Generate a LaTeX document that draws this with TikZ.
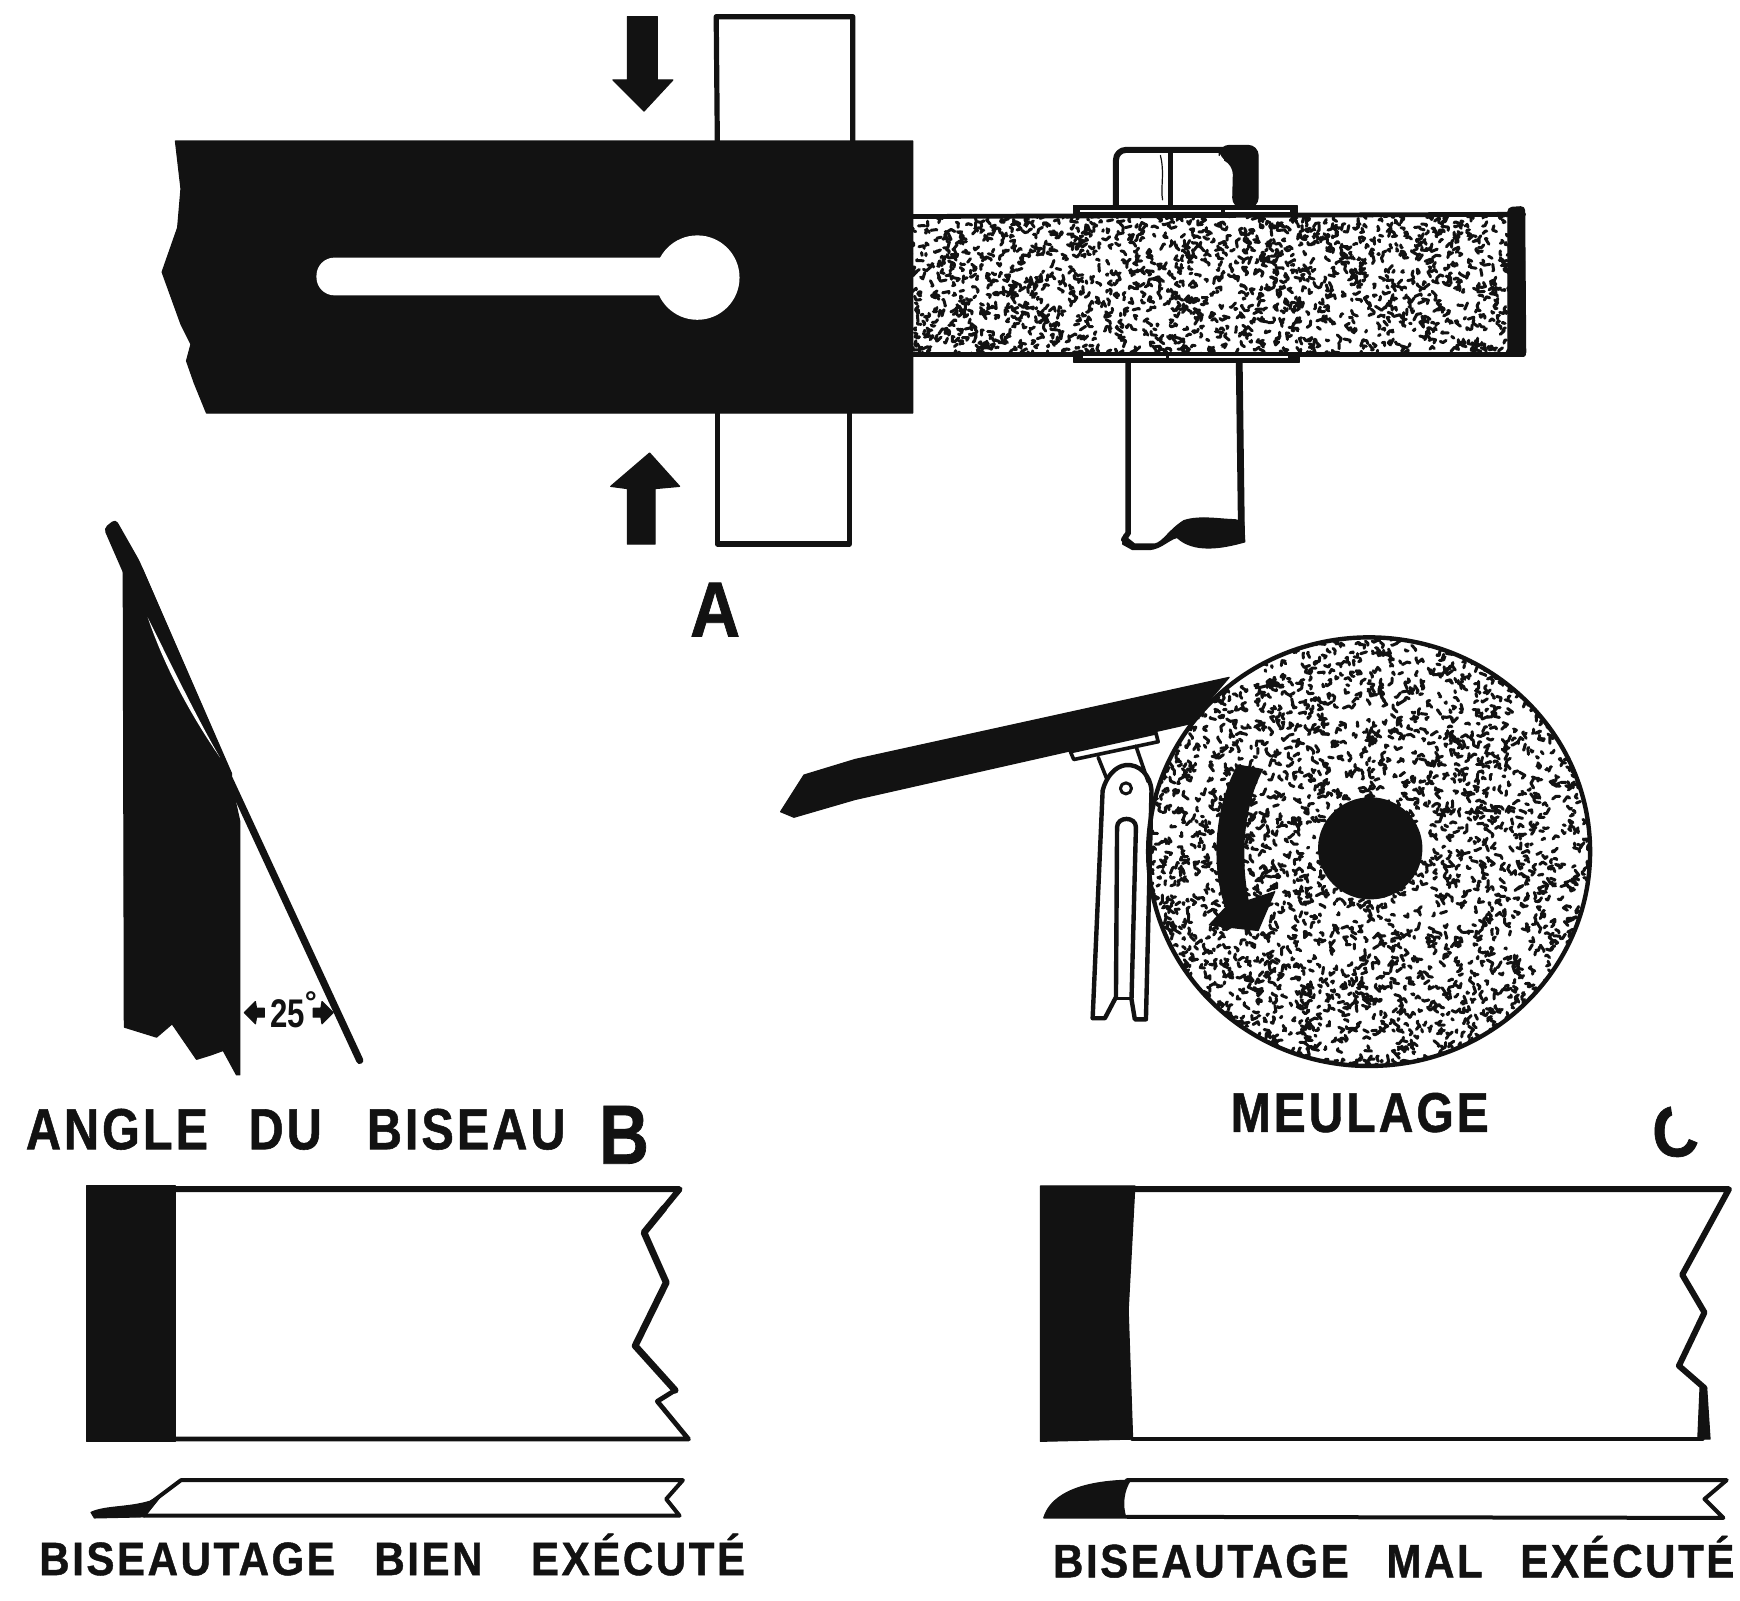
\documentclass[tikz,border=0pt]{standalone}
\usepackage{fontspec}
\setmainfont{Liberation Sans}
\newfontfamily\labfont[LetterSpace=6,BoldFont={Liberation Sans Bold},BoldFeatures={FakeBold=1}]{Liberation Sans}
\usetikzlibrary{calc}
\definecolor{ink}{gray}{0.07}
\tikzset{
  inkline/.style={draw=ink,line width=#1,line join=round,line cap=round},
  inkline/.default=2.6pt,
  solid ink/.style={fill=ink,draw=ink,line width=.6pt,line join=round},
  cap label/.style={font=\labfont\bfseries\fontsize{23.4}{23.4}\selectfont,text=ink,inner sep=0pt,anchor=west},
  letter label/.style={inner sep=0pt,text=ink,font=\labfont\bfseries\fontsize{#1}{#1}\selectfont},
  speck/.style={draw=ink,line width=1.5pt,line cap=round,line join=round}
}
\newcommand{\stipple}[5]{% x0 y0 w h n
  \foreach \i in {1,...,#5}{
    \pgfmathsetmacro\sx{#1+rnd*#3}
    \pgfmathsetmacro\sy{#2+rnd*#4}
    \pgfmathsetmacro\ra{rnd*360}
    \pgfmathsetmacro\rb{\ra+40+rnd*90}
    \pgfmathsetmacro\la{1+rnd*5}
    \pgfmathsetmacro\lb{rnd*4}
    \draw[speck] (\sx,\sy) -- ++(\ra:\la) -- ++(\rb:\lb);
  }
}
\begin{document}
\begin{tikzpicture}[x=0.5552pt,y=-0.5552pt]
\pgfmathsetseed{4242}
\useasboundingbox (0,0) rectangle (1567,1441);
\fill[white] (0,0) rectangle (1567,1441);

% ---------- Figure A ----------
% blade outline
\draw[inkline] (646,127) -- (645,15) -- (768,15) -- (768,127);
\draw[inkline] (646,372) -- (646,490) -- (765,490) -- (765,372);
% black arm
\fill[solid ink] (158,127) -- (822,127) -- (822,372) -- (186,372)
  -- (175,345) -- (168,325) -- (172,310) -- (163,292) -- (146,245)
  -- (160,205) -- (163,170) -- cycle;
\fill[white,rounded corners=9pt] (285,232) rectangle (620,266);
\fill[white] (628,250) circle[radius=38];
% pressure arrows
\fill[solid ink] (565,15) -- (592,15) -- (592,72) -- (606,72) -- (580,100) -- (552,72) -- (565,72) -- cycle;
\fill[solid ink] (565,490) -- (590,490) -- (590,440) -- (612,438) -- (585,408) -- (550,438) -- (565,440) -- cycle;
% bolt head
\draw[inkline=3pt,rounded corners=5pt] (1005,187) -- (1005,135) -- (1128,135);
\draw[inkline=2.2pt] (1054,187) -- (1054,138);
\draw[inkline=.6pt] (1045,140) .. controls (1049,155) and (1045,170) .. (1047,180);
\fill[solid ink,rounded corners=5pt] (1110,187) -- (1111,148) -- (1098,142) -- (1098,131) -- (1133,131) -- (1133,187) -- cycle;
% stem
\draw[inkline=2.8pt] (1016,326) -- (1016,480) -- (1012,486);
\draw[inkline=3.4pt] (1116,326) -- (1118,480);
\fill[solid ink] (1012,482) -- (1022,490) -- (1040,490) .. controls (1048,488) and (1052,478) .. (1066,469)
  .. controls (1080,464) and (1100,468) .. (1112,468) -- (1120,470) -- (1121,488)
  .. controls (1100,494) and (1075,498) .. (1060,484) .. controls (1052,486) and (1046,494) .. (1035,495)
  -- (1020,495) -- (1011,490) -- cycle;
% grinding wheel, edge view
\begin{scope}
  \clip (822,195) rectangle (1372,318);
  \stipple{818}{190}{556}{132}{1700}
\end{scope}
\draw[inkline=2.4pt] (822,195) -- (1372,193);
\draw[inkline=2.4pt] (822,319) -- (1372,319);
\fill[solid ink,rounded corners=2pt] (1358,187) -- (1373,186) -- (1374,321) -- (1358,320) -- cycle;
% collars
\fill[solid ink] (967,185) rectangle (1168,195);
\fill[white] (973,189) rectangle (1100,191);
\fill[white] (1103,189) rectangle (1162,191);
\fill[solid ink] (967,318) rectangle (1170,326);
\fill[white] (975,320.5) rectangle (1050,322.5);
\fill[white] (1053,320.5) rectangle (1160,322.5);
\node[letter label=39,xscale=.89] (labelA) at (644,549) {A};

% ---------- Figure B, bevel angle ----------
\fill[solid ink] (111,512) -- (128,512) -- (205,690) -- (216,740) -- (216,968) -- (213,968) -- (201,946)
  -- (190,950) -- (177,954) -- (155,922) -- (141,934) -- (112,925) -- cycle;
\draw[inkline=3.6pt] (101,474) -- (324,955);
\fill[solid ink,rounded corners=2pt] (94,476) -- (104,468) -- (125,505) -- (210,700) -- (200,700) -- (111,515) -- cycle;
\fill[white] (133,556) .. controls (150,590) and (178,648) .. (198,682)
  .. controls (176,650) and (150,606) .. cycle;
\node[inner sep=0pt,text=ink,font=\bfseries\fontsize{20}{20}\selectfont,xscale=.78] (angle) at (259,913) {25};
\node[inner sep=0pt,text=ink,font=\bfseries\fontsize{15}{15}\selectfont] (deg) at (280,902) {°};
\fill[solid ink] (220,912) -- (230,902) -- (231,908) -- (238,908) -- (238,916) -- (231,916) -- (230,922) -- cycle;
\fill[solid ink] (300,912) -- (290,902) -- (289,908) -- (282,908) -- (282,916) -- (289,916) -- (290,922) -- cycle;
\node[cap label,font=\labfont\bfseries\fontsize{29}{29}\selectfont,xscale=.84] (angleLabel) at (23,1017) {ANGLE \hspace{14.3pt}DU \hspace{17pt}BISEAU};
\node[letter label=42,xscale=.82] (labelB) at (562,1022) {B};

% ---------- Figure C, grinding ----------
% wheel
\begin{scope}
  \clip (1233,767) ellipse[x radius=199,y radius=193];
  \stipple{1030}{570}{406}{396}{3100}
\end{scope}
\draw[inkline=2.2pt] (1233,767) ellipse[x radius=199,y radius=193];
\fill[ink] (1234,764) ellipse[x radius=47,y radius=46];
% rotation arrow
\fill[solid ink] (1115,689) -- (1137,693) .. controls (1122,720) and (1115,765) .. (1124,811)
  -- (1148,803) -- (1133,838) -- (1089,833) -- (1104,817)
  .. controls (1092,785) and (1092,730) .. cycle;
% chisel
\fill[solid ink] (703,731) -- (724,698) -- (770,684) -- (1107,610) -- (1071,652) -- (770,720) -- (715,736) -- cycle;
% tool rest
\draw[inkline=1.8pt,fill=white] (964,677) -- (1041,660) -- (1043,668) -- (967,684) -- cycle;
\draw[inkline=1.8pt] (989,682) -- (997,702);
\draw[inkline=1.8pt] (1023,672) -- (1034,704);
\draw[inkline=2.2pt] (984,917) -- (993,712) .. controls (996,700) and (1004,690) .. (1014,689)
  .. controls (1026,688) and (1036,698) .. (1037,712) -- (1032,918) -- (1022,918) -- (1019,900) -- (1023,745)
  .. controls (1023,735) and (1006,735) .. (1006,745) -- (1005,898) -- (995,917) -- cycle;
\draw[inkline=1.5pt] (1005,899) -- (1019,899);
\draw[inkline=1.5pt] (1014,710) circle[radius=5];
\node[cap label,font=\labfont\bfseries\fontsize{28}{28}\selectfont,xscale=.86] (meulage) at (1108,1002) {MEULAGE};
\begin{scope}
  \clip (1480,985) -- (1503,985) -- (1508,1018) -- (1540,1018) -- (1540,1055) -- (1480,1055) -- cycle;
  \node[letter label=36,xscale=.9] (labelC) at (1509,1019) {C};
\end{scope}

% ---------- Bevel well executed ----------
\fill[solid ink] (78,1068) rectangle (158,1298);
\draw[inkline=3pt] (158,1071) -- (612,1071) -- (598,1088);
\draw[inkline=3.4pt] (598,1088) -- (580,1110) -- (600,1155) -- (572,1212) -- (608,1252);
\draw[inkline=2.4pt] (608,1252) -- (592,1262) -- (620,1296) -- (158,1296);
\draw[inkline=2pt] (130,1365) -- (612,1365) -- (600,1350) -- (615,1333) -- (163,1333) -- (135,1354);
\fill[solid ink] (82,1362) .. controls (95,1356) and (115,1358) .. (135,1352) -- (146,1346) -- (130,1366) -- (85,1367) -- cycle;
\node[cap label,xscale=.9] (goodLabel) at (35,1400) {BISEAUTAGE \hspace{14pt}BIEN \hspace{19pt}EXÉCUTÉ};

% ---------- Bevel badly executed ----------
\fill[solid ink] (937,1068) -- (1022,1068) -- (1016,1180) -- (1020,1296) -- (937,1298) -- cycle;
\draw[inkline=3pt] (1020,1071) -- (1557,1071) -- (1515,1148) -- (1535,1182) -- (1512,1230) -- (1535,1250);
\draw[inkline=2.4pt] (1020,1296) -- (1533,1296);
\fill[solid ink] (1531,1250) -- (1537,1250) -- (1540,1296) -- (1529,1296) -- cycle;
\draw[inkline=2pt] (1015,1366) -- (1552,1367) -- (1535,1350) -- (1555,1333) -- (1015,1333);
\fill[solid ink] (940,1367) .. controls (945,1350) and (965,1334) .. (1018,1333)
  .. controls (1012,1342) and (1010,1355) .. (1014,1367) -- cycle;
\node[cap label,xscale=.9] (badLabel) at (948,1402) {BISEAUTAGE \hspace{13pt}MAL \hspace{13pt}EXÉCUTÉ};
\end{tikzpicture}
\end{document}
